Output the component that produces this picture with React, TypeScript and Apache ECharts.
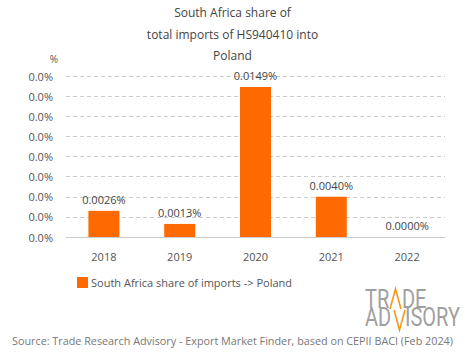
import React, { useEffect, useRef } from "react";
import * as echarts from "echarts";

const categories = ["2018", "2019", "2020", "2021", "2022"];
const shareValues = [0.0026, 0.0013, 0.0149, 0.004, 0.0];
const titleLines = ["South Africa share of", "total imports of HS940410 into", "Poland"];
const seriesName = "South Africa share of imports -> Poland";
const sourceText = "Source: Trade Research Advisory - Export Market Finder, based on CEPII BACI (Feb 2024)";

const FONT = "'Open Sans', 'DejaVu Sans', sans-serif";
const ORANGE = "#ff6a00";
const TXT = "#555";

export default function App() {
  const ref = useRef<HTMLDivElement>(null);
  useEffect(() => {
    if (!ref.current) return;
    const chart = echarts.init(ref.current, null, { renderer: "svg" });
    chart.setOption({
      animation: false,
      backgroundColor: "#fff",
      textStyle: { fontFamily: FONT },
      title: {
        text: titleLines.join("\n"),
        left: "center",
        top: -3,
        textStyle: { fontFamily: FONT, fontSize: 12, fontWeight: "normal", color: "#444", lineHeight: 21.5 },
      },
      grid: { left: 66, right: 20, top: 76, bottom: 122 },
      legend: {
        left: 72,
        top: 272,
        itemWidth: 11,
        itemHeight: 11,
        itemGap: 5,
        textStyle: { fontFamily: FONT, fontSize: 11, color: TXT, padding: [0, 0, 0, -2] },
        data: [{ name: seriesName, icon: "rect" }],
      },
      xAxis: {
        type: "category",
        data: categories,
        axisTick: { show: false },
        axisLine: { lineStyle: { color: "#ccc" } },
        axisLabel: { fontFamily: FONT, fontSize: 11, color: TXT, margin: 14 },
      },
      yAxis: {
        type: "value",
        min: 0,
        max: 0.016,
        interval: 0.002,
        name: "%",
        nameLocation: "end",
        nameGap: 12,
        nameTextStyle: { fontFamily: FONT, fontSize: 10, color: TXT, align: "right", padding: [0, 8, 0, 0] },
        axisLabel: {
          fontFamily: FONT,
          fontSize: 11,
          color: TXT,
          margin: 13,
          formatter: (v: number) => v.toFixed(1) + "%",
        },
        splitLine: { lineStyle: { color: "#ccc", type: [4, 3] } },
      },
      series: [
        {
          name: seriesName,
          type: "bar",
          data: shareValues,
          barWidth: 31,
          itemStyle: { color: ORANGE },
          label: {
            show: true,
            position: "top",
            distance: 6,
            fontFamily: FONT,
            fontSize: 11,
            color: "#444",
            formatter: (p: any) => Number(p.value).toFixed(4) + "%",
          },
        },
      ],
      graphic: [
        {
          type: "text",
          left: "center",
          top: 335,
          style: { text: sourceText, font: `10.8px ${FONT}`, fill: "#777" },
        },
        {
          type: "group",
          x: 365,
          y: 287,
          children: [
            { type: "text", x: 0, y: 0, scaleX: 0.8, style: { text: "TR", font: `25px Roboto, ${FONT}`, fill: "#a0a0a0" } },
            { type: "text", x: 37, y: 0, scaleX: 0.8, style: { text: "DE", font: `25px Roboto, ${FONT}`, fill: "#a0a0a0" } },
            { type: "text", x: 0, y: 18, scaleX: 0.8, style: { text: "AD", font: `25px Roboto, ${FONT}`, fill: "#a0a0a0" } },
            { type: "text", x: 40, y: 18, scaleX: 0.8, style: { text: "ISORY", font: `25px Roboto, ${FONT}`, fill: "#a0a0a0" } },
            {
              type: "polyline",
              shape: { points: [[25, 22], [30.5, 2], [36, 22]] },
              style: { stroke: "#f39a1e", lineWidth: 1.6, fill: "none" },
            },
            {
              type: "polyline",
              shape: { points: [[29, 23], [34.5, 43], [40, 23]] },
              style: { stroke: "#f39a1e", lineWidth: 1.6, fill: "none" },
            },
          ],
        },
      ],
    });
    return () => chart.dispose();
  }, []);
  return <div ref={ref} style={{ width: 465, height: 359, position: "absolute", left: 0, top: 0 }} />;
}
